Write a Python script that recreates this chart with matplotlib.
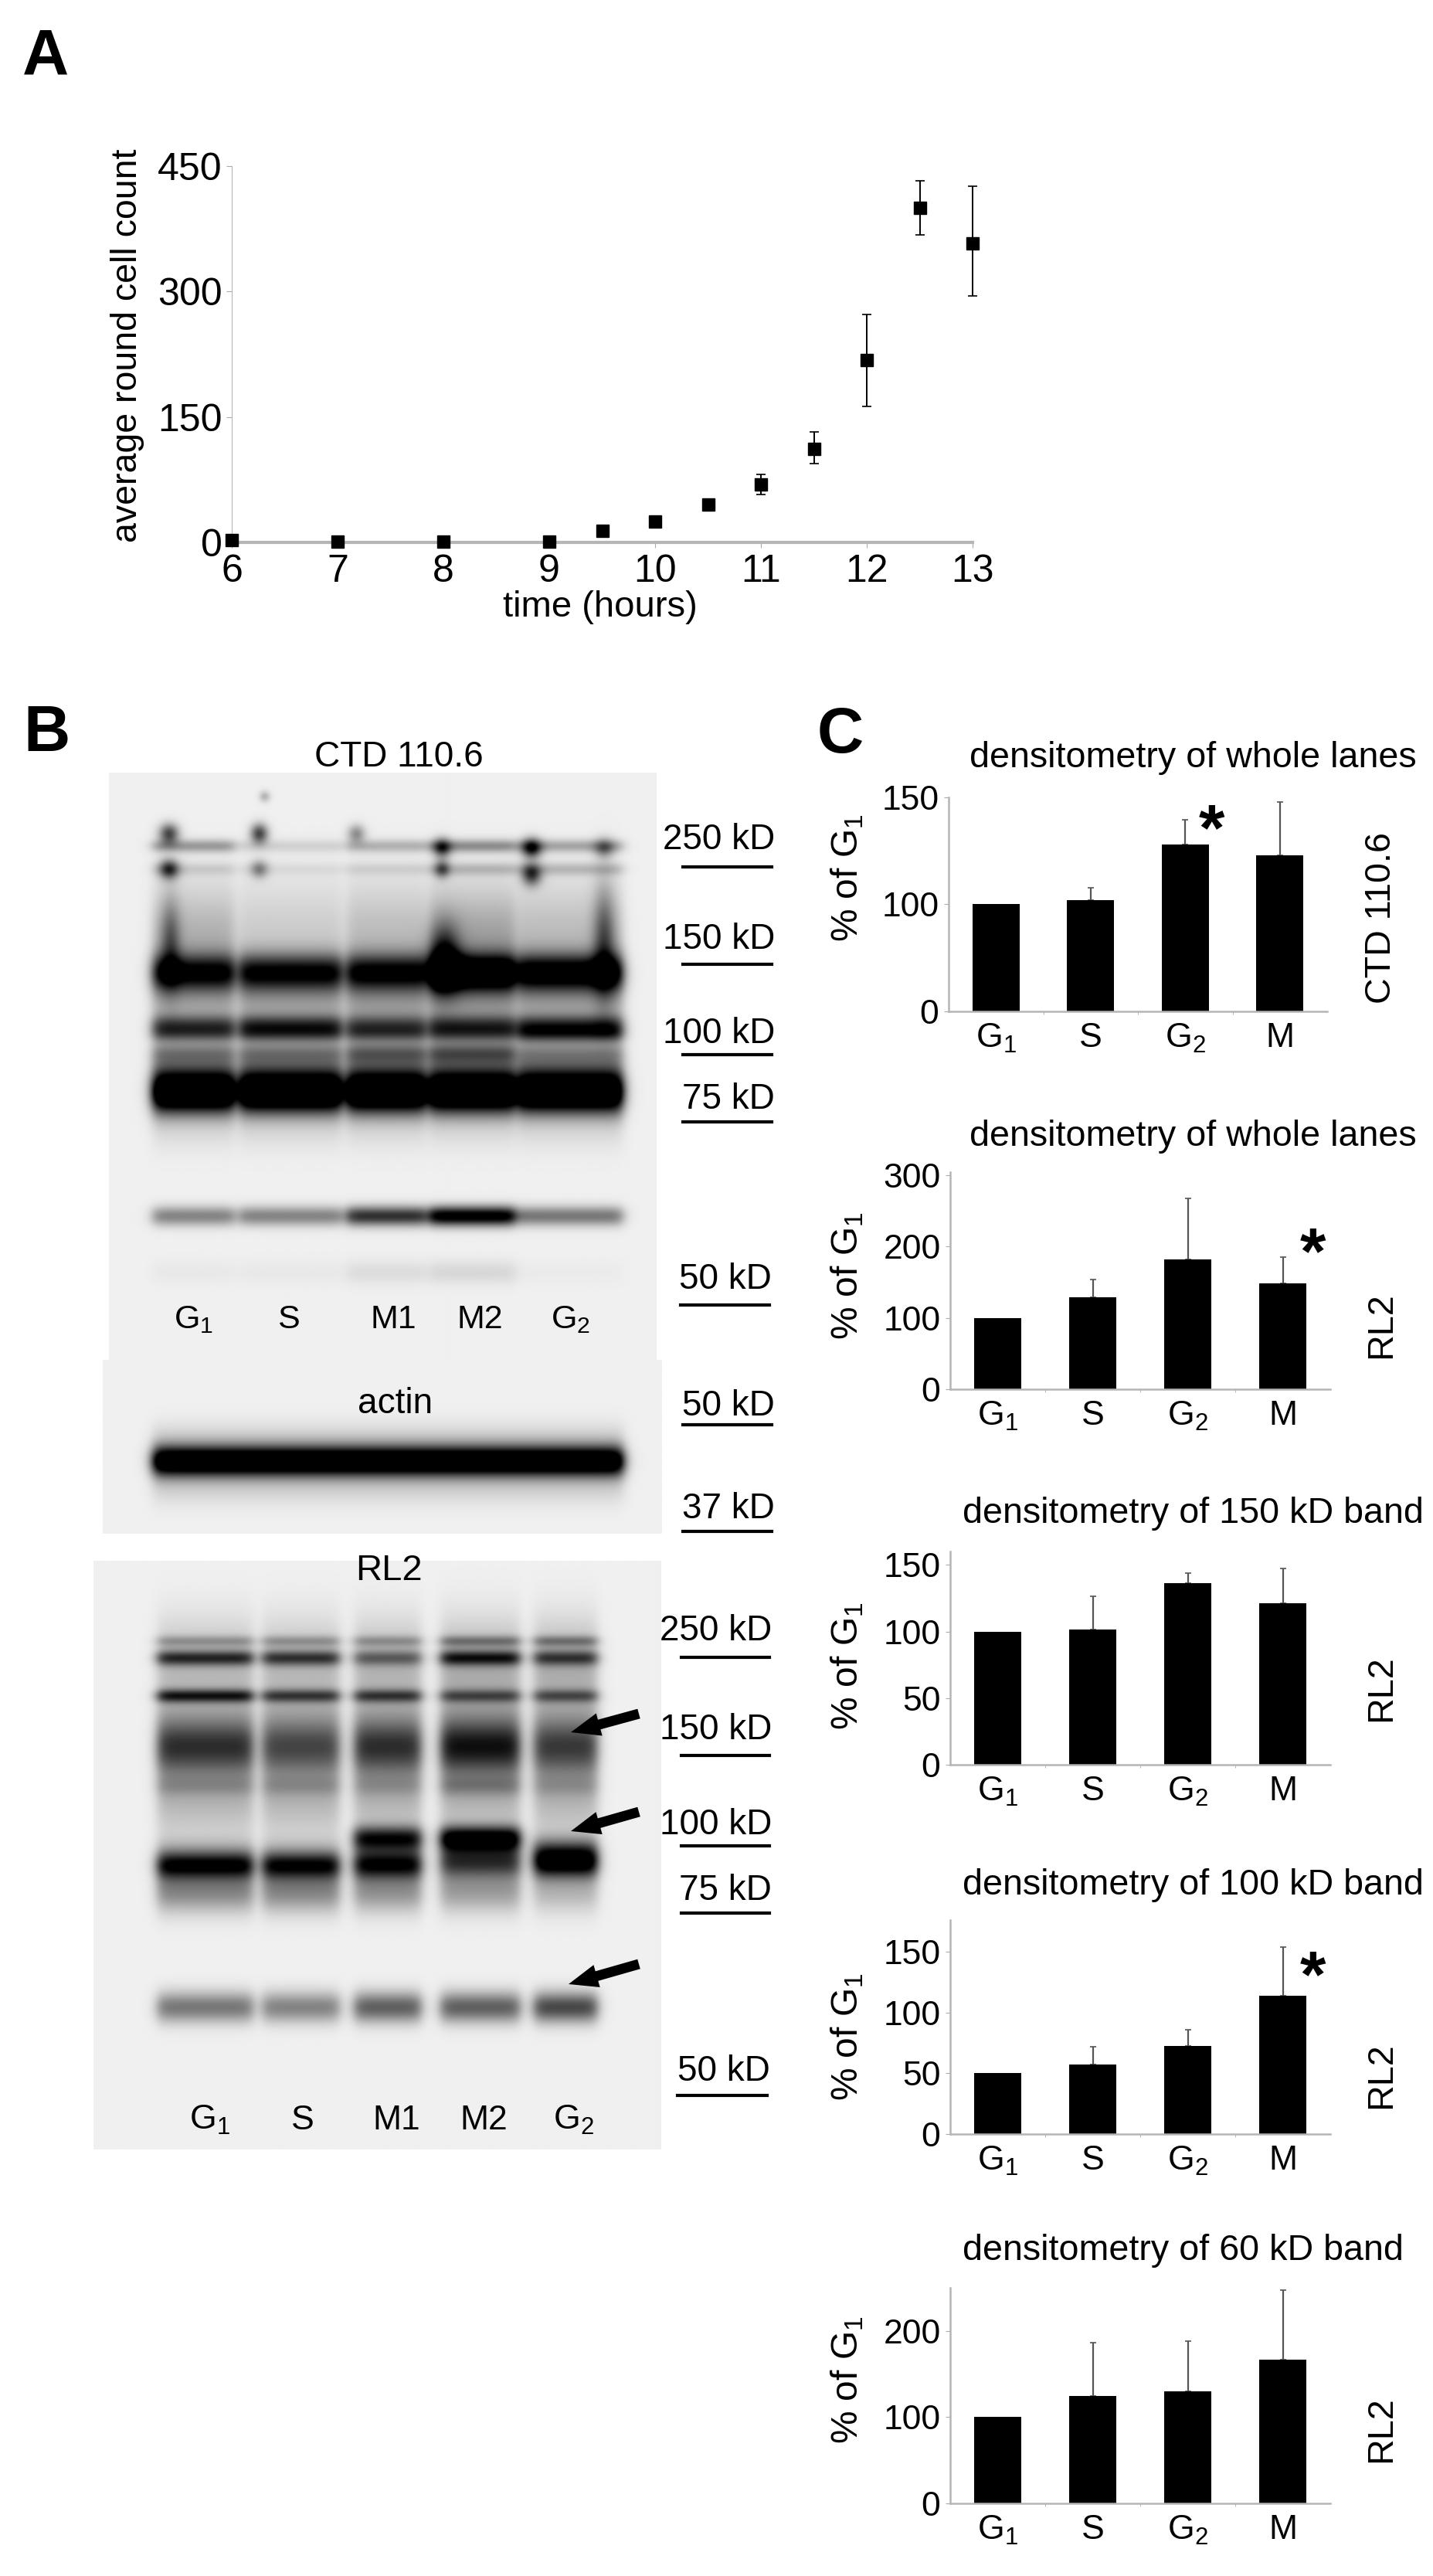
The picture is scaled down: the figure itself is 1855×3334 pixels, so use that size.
import numpy as np
import matplotlib
matplotlib.use('Agg')
import matplotlib.pyplot as plt
from matplotlib.patches import FancyArrow

plt.rcParams['font.family'] = ['Liberation Sans', 'DejaVu Sans']
plt.rcParams['mathtext.default'] = 'regular'

W, H = 1855, 3334

# panel A
hours = [6, 7, 8, 9, 9.5, 10, 10.5, 11, 11.5, 12, 12.5, 13]
round_cells = [3, 1, 1, 1, 14, 25, 45, 69, 112, 218, 400, 358]
cells_low = [0, 0, 0, 0, 3, 4, 4, 12, 18, 55, 32, 63]
cells_high = [0, 0, 0, 0, 3, 4, 4, 12, 20, 55, 32, 68]

# panel C
phases = ['G$_1$', 'S', 'G$_2$', 'M']
ctd_lanes = [100, 102, 128, 123]
ctd_lanes_err = [0, 5.6, 11.7, 25]
rl2_lanes = [100, 129, 182, 148]
rl2_lanes_err = [0, 25, 85, 37]
band150 = [100, 101.6, 136, 121]
band150_err = [0, 25, 8, 26]
band100 = [50, 57, 72.7, 114]
band100_err = [0, 14.5, 13.3, 40]
band60 = [100, 125, 130, 167]
band60_err = [0, 61, 58, 80]

# blots: lane edges, then (row, sigma, darkness per lane)
lanes1 = [(197, 303), (309, 442), (448, 551), (555, 667), (670, 806)]
bands1 = [
    (1094, 6, [.35, .12, .25, .4, .3]),
    (1124, 6, [.12, .06, .1, .2, .2]),
    (1170, 40, [.08, .06, .08, .1, .08]),
    (1215, 35, [.2, .1, .15, .25, .15]),
    (1258, 17, [.85, .85, .85, 1.2, 1.0]),
    (1300, 40, [.28, .3, .32, .34, .3]),
    (1325, 9, [.45, .5, .4, .45, .5]),
    (1337, 8, [.4, .45, .4, .4, .55]),
    (1362, 9, [.25, .25, .35, .4, .2]),
    (1392, 22, [.5, .5, .5, .5, .5]),
    (1415, 18, [1.3, 1.3, 1.3, 1.3, 1.3]),
    (1455, 22, [.1, .1, .1, .1, .1]),
    (1573, 9, [.45, .45, .8, 1.1, .5]),
    (1646, 11, [.03, .03, .08, .1, .02]),
]
spots1 = [(218, 1078, 9, 9, .7), (218, 1124, 9, 9, .7), (335, 1078, 8, 9, .7), (335, 1124, 8, 8, .4),
          (461, 1078, 8, 8, .4), (572, 1097, 8, 9, .6), (572, 1124, 7, 8, .5), (688, 1097, 9, 9, .8),
          (688, 1131, 9, 10, .7), (782, 1097, 9, 9, .4), (342, 1030, 5, 5, .25), (220, 1220, 9, 40, .4),
          (782, 1220, 10, 50, .5), (575, 1240, 14, 30, .7)]
lanes_actin = [(197, 806)]
bands_actin = [(1891, 14, [1.4]), (1862, 16, [.12]), (1925, 16, [.12])]
lanes2 = [(203, 327), (339, 439), (458, 545), (570, 673), (691, 773)]
bands2 = [
    (2123, 5, [.25, .25, .25, .35, .35]),
    (2145, 7, [.65, .6, .4, .7, .55]),
    (2194, 6, [.7, .55, .55, .45, .45]),
    (2150, 40, [.2, .2, .22, .25, .25]),
    (2235, 40, [.22, .22, .22, .25, .22]),
    (2320, 40, [.25, .25, .25, .25, .25]),
    (2260, 24, [.55, .45, .55, .65, .5]),
    (2311, 9, [.12, .12, .1, .18, .1]),
    (2378, 11, [0, 0, .8, 1.0, 0]),
    (2403, 16, [.3, .25, .4, .6, 1.0]),
    (2414, 12, [.7, .7, .6, .2, .3]),
    (2445, 20, [.45, .45, .4, .35, .25]),
    (2597, 14, [.5, .45, .6, .6, .7]),
]

markers1 = [('250 kD', 1087, 1122), ('150 kD', 1216, 1248), ('100 kD', 1338, 1365), ('75 kD', 1423, 1452)]
markers_actin = [('50 kD', 1820, 1844), ('37 kD', 1953, 1982)]
markers2 = [('250 kD', 2111, 2145), ('150 kD', 2239, 2272), ('100 kD', 2362, 2389), ('75 kD', 2447, 2476)]
lane_names = ['G$_1$', 'S', 'M1', 'M2', 'G$_2$']


def draw_blot(ax, box, lanes, bands, spots, bg=.94):
    x0, x1, y0, y1 = box
    xs = np.arange(x0, x1, 2.0)
    ys = np.arange(y0, y1, 2.0)
    xx, yy = np.meshgrid(xs, ys)
    a = np.zeros_like(xx)
    for row, sig, dark in bands:
        g = np.exp(-0.5 * ((yy - row) / sig) ** 2)
        for (l, r), d in zip(lanes, dark):
            a += d * g * 0.5 * (np.tanh((xx - l) / 9) - np.tanh((xx - r) / 9))
    for sx, sy, wx, wy, d in spots:
        a += d * np.exp(-0.5 * ((xx - sx) / wx) ** 2 - 0.5 * ((yy - sy) / wy) ** 2)
    img = bg * (1 - np.clip(a, 0, 1))
    ax.imshow(img, cmap='gray', vmin=0, vmax=1, extent=(x0, x1, y1, y0),
              interpolation='bilinear', aspect='auto', zorder=1)


def px_axes(fig, left, right, top, bottom):
    return fig.add_axes([left / W, 1 - bottom / H, (right - left) / W, (bottom - top) / H])


def bar_panel(fig, box, vals, errs, ymax, ticks, title, title_y, title_x, side, side_y, ylab_y, knee=None):
    ax = px_axes(fig, *box)
    if knee is not None:
        # first panel: 0-100 and 100-150 take the same height
        ax.set_yscale('function', functions=(lambda v: np.interp(v, [0, 100, 150], [0, 1, 2]),
                                             lambda v: np.interp(v, [0, 1, 2], [0, 100, 150])))
    pos = np.arange(4)
    ax.bar(pos, vals, width=.5, color='black', zorder=2)
    for p, v, e in zip(pos, vals, errs):
        if e > 0:
            ax.errorbar(p, v, yerr=[[0], [e]], color='#555555', elinewidth=1.6, capsize=3,
                        capthick=1.2, zorder=1, clip_on=False)
    ax.set_xlim(-.5, 3.5)
    ax.set_ylim(0, ymax)
    ax.set_yticks(ticks)
    ax.set_yticklabels([str(t) for t in ticks], fontsize=32)
    ax.yaxis.set_minor_locator(matplotlib.ticker.NullLocator())
    ax.set_xticks(pos)
    ax.set_xticklabels(phases, fontsize=32)
    ax.set_xticks(pos[:-1] + .5, minor=True)
    ax.tick_params(axis='x', which='major', length=0, pad=10)
    ax.tick_params(axis='x', which='minor', length=3, color='#aaaaaa')
    ax.tick_params(axis='y', length=4, color='#aaaaaa', pad=5)
    for s in ['top', 'right']:
        ax.spines[s].set_visible(False)
    for s in ['left', 'bottom']:
        ax.spines[s].set_color('#b5b5b5')
        ax.spines[s].set_linewidth(1.8)
    over.text(title_x, title_y, title, fontsize=33.6, ha='left', va='center')
    over.text(1097, ylab_y, '% of G$_1$', fontsize=34.5, rotation=90, ha='center', va='center')
    over.text(1788, side_y, side, fontsize=33.6, rotation=90, ha='center', va='center')
    return ax


fig = plt.figure(figsize=(W / 100, H / 100), dpi=100, facecolor='white')
over = fig.add_axes([0, 0, 1, 1], zorder=5)
over.set_xlim(0, W)
over.set_ylim(H, 0)
over.axis('off')
over.patch.set_alpha(0)

under = fig.add_axes([0, 0, 1, 1], zorder=0)
draw_blot(under, (141, 850, 1000, 1760), lanes1, bands1, spots1)
draw_blot(under, (133, 857, 1760, 1985), lanes_actin, bands_actin, [])
draw_blot(under, (121, 856, 2020, 2782), lanes2, bands2, [])
under.set_xlim(0, W)
under.set_ylim(H, 0)
under.axis('off')

# panel letters
over.text(29, 74, 'A', fontsize=60, fontweight='bold', ha='left', va='center')
over.text(30, 950, 'B', fontsize=60, fontweight='bold', ha='left', va='center')
over.text(1058, 952, 'C', fontsize=60, fontweight='bold', ha='left', va='center')

# panel A
axa = px_axes(fig, 300, 1259, 215, 702)
axa.errorbar(hours, round_cells, yerr=[cells_low, cells_high], fmt='s', color='black', ms=11.5,
             elinewidth=1.4, capsize=4, capthick=1.2, clip_on=False, zorder=3)
axa.set_xlim(6, 13)
axa.set_ylim(0, 450)
axa.set_xticks(range(6, 14))
axa.set_yticks([0, 150, 300, 450])
axa.tick_params(axis='both', labelsize=36, length=5, color='#aaaaaa', pad=6)
axa.tick_params(axis='y', pad=4)
for s in ['top', 'right']:
    axa.spines[s].set_visible(False)
axa.spines['left'].set_color('#b5b5b5')
axa.spines['bottom'].set_color('#b5b5b5')
axa.spines['bottom'].set_linewidth(3)
over.text(165, 447, 'average round cell count', fontsize=33.5, rotation=90, ha='center', va='center')
over.text(777, 786, 'time (hours)', fontsize=34, ha='center', va='center')

# panel B text
over.text(516, 980, 'CTD 110.6', fontsize=33, ha='center', va='center')
over.text(512, 1817, 'actin', fontsize=33, ha='center', va='center')
over.text(503, 2033, 'RL2', fontsize=34, ha='center', va='center')
for name, x in zip(lane_names, [251, 373, 509, 621, 739]):
    over.text(x, 1708, name, fontsize=31, ha='center', va='center')
for name, x in zip(lane_names, [271, 392, 513, 626, 742]):
    over.text(x, 2744, name, fontsize=32, ha='center', va='center')
for name, ty, ly in markers1 + markers_actin:
    over.text(1003, ty, name, fontsize=33, ha='right', va='center')
    over.plot([884, 999], [ly, ly], color='black', lw=3)
over.text(999, 1656, '50 kD', fontsize=33, ha='right', va='center')
over.plot([881, 996], [1689, 1689], color='black', lw=3)
for name, ty, ly in markers2:
    over.text(999, ty, name, fontsize=33, ha='right', va='center')
    over.plot([882, 996], [ly, ly], color='black', lw=3)
over.text(997, 2681, '50 kD', fontsize=33, ha='right', va='center')
over.plot([877, 993], [2712, 2712], color='black', lw=3)

for tail, tip in [((827, 2218), (739, 2242)), ((827, 2345), (739, 2370)), ((827, 2542), (736, 2568))]:
    over.add_patch(FancyArrow(tail[0], tail[1], tip[0] - tail[0], tip[1] - tail[1], width=13,
                              head_width=30, head_length=38, length_includes_head=True,
                              color='black', lw=0))

# panel C
bar_panel(fig, (1228, 1718, 1032, 1309), ctd_lanes, ctd_lanes_err, 150, [0, 100, 150],
          'densitometry of whole lanes', 981, 1255, 'CTD 110.6', 1188, 1136, knee=True)
bar_panel(fig, (1230, 1722, 1517, 1798), rl2_lanes, rl2_lanes_err, 304, [0, 100, 200, 300],
          'densitometry of whole lanes', 1471, 1255, 'RL2', 1715, 1651)
bar_panel(fig, (1230, 1722, 2008, 2284), band150, band150_err, 160, [0, 50, 100, 150],
          'densitometry of 150 kD band', 1959, 1246, 'RL2', 2185, 2156)
bar_panel(fig, (1230, 1722, 2485, 2762), band100, band100_err, 176, [0, 50, 100, 150],
          'densitometry of 100 kD band', 2440, 1246, 'RL2', 2686, 2636)
bar_panel(fig, (1230, 1722, 2961, 3240), band60, band60_err, 250, [0, 100, 200],
          'densitometry of 60 kD band', 2913, 1246, 'RL2', 3144, 3080)

for x, y in [(1569, 1078), (1700, 1626), (1700, 2562)]:
    over.text(x, y, '*', fontsize=62, fontweight='bold', ha='center', va='center')

fig.savefig('out.png', dpi=100, facecolor='white')
